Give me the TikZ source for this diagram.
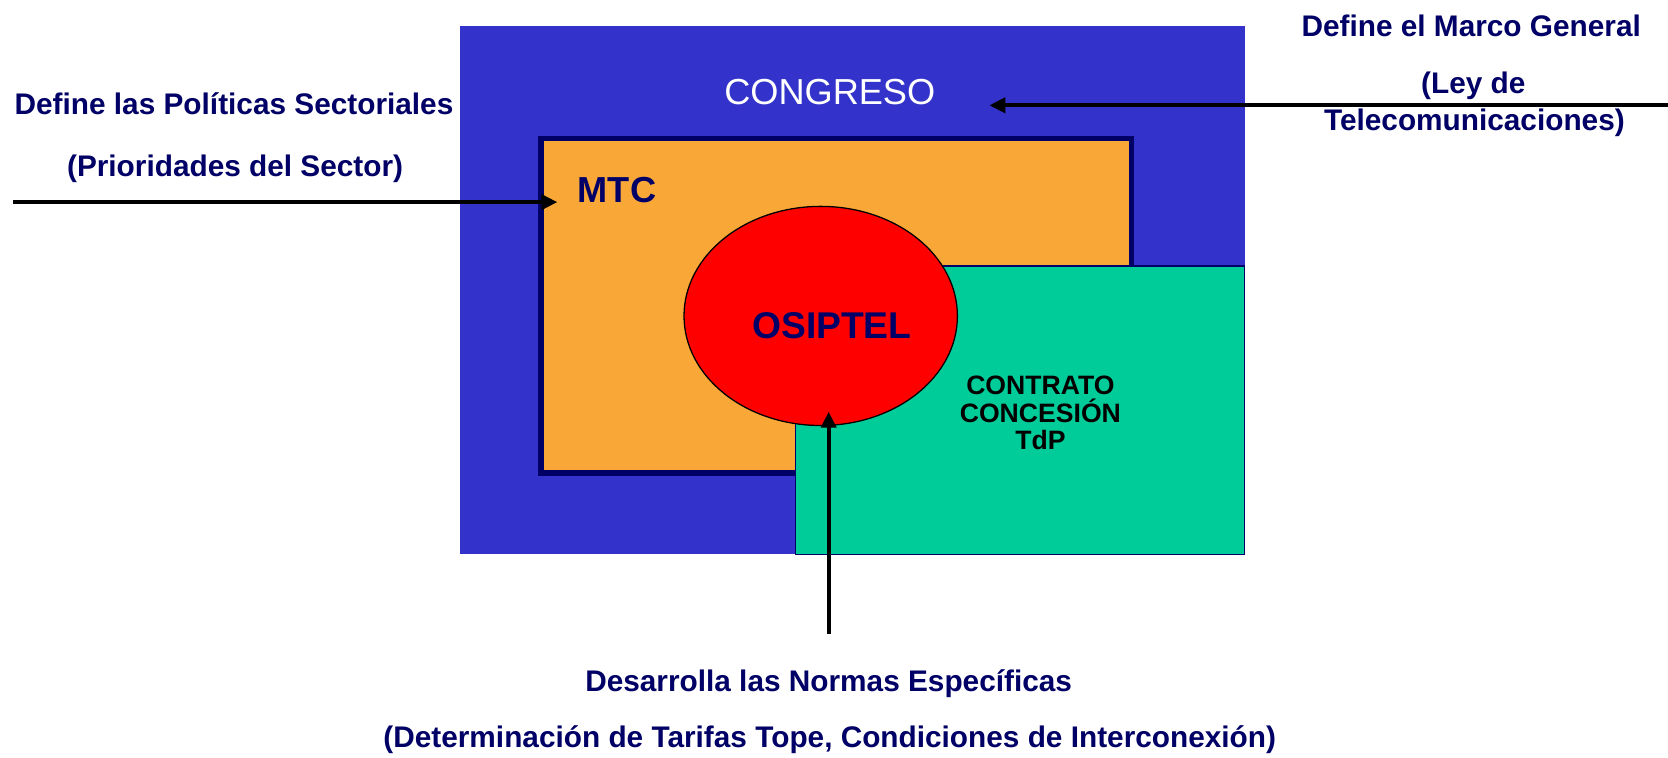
\documentclass[tikz,border=0pt]{standalone}
\usepackage{fontspec}
\setmainfont{Liberation Sans}
\usetikzlibrary{arrows.meta,shapes.geometric}
\definecolor{cblue}{RGB}{51,51,204}
\definecolor{corange}{RGB}{249,168,56}
\definecolor{cnavy}{RGB}{0,0,102}
\definecolor{cgreen}{RGB}{0,204,153}
\definecolor{cred}{RGB}{255,0,0}
\tikzset{
  box/.style={rectangle, inner sep=0pt, outer sep=0pt},
  lbl/.style={anchor=base, inner sep=0pt, text=cnavy, font=\fontsize{28}{34}\selectfont\bfseries},
  arr/.style={line width=4pt, -{Triangle[length=15pt,width=14pt]}},
}
\begin{document}
\begin{tikzpicture}[x=1pt,y=-1pt]
\useasboundingbox (0,0) rectangle (1568,712);
% shapes
\node[box, fill=cblue, minimum width=738pt, minimum height=497pt] (congreso) at (801,272.5) {};
\node[box, fill=corange, draw=cnavy, line width=5pt, minimum width=555pt, minimum height=314pt] (mtc) at (786,287.5) {};
\node[box, fill=cgreen, draw=cnavy, line width=1.2pt, minimum width=422pt, minimum height=271pt] (contrato) at (959,385.5) {};
\node[ellipse, inner sep=0pt, fill=cred, draw=black, line width=1.2pt, minimum width=257pt, minimum height=206pt] (osiptel) at (771.5,297) {};
% texts inside
\node[anchor=base, inner sep=0pt, text=white, font=\fontsize{34}{40}\selectfont] (tcongreso) at (780,98) {CONGRESO};
\node[anchor=base, inner sep=0pt, text=cnavy, font=\fontsize{34}{40}\selectfont\bfseries] (tmtc) at (580,190) {MTC};
\node[anchor=base, inner sep=0pt, text=cnavy, font=\fontsize{35}{40}\selectfont\bfseries] (tosiptel) at (782,318) {OSIPTEL};
\node[anchor=base, inner sep=0pt, text=black, font=\fontsize{25}{26.5}\selectfont\bfseries, align=center] (tcon1) at (978,371) {CONTRATO};
\node[anchor=base, inner sep=0pt, text=black, font=\fontsize{25}{26.5}\selectfont\bfseries] (tcon2) at (978,397) {CONCESIÓN};
\node[anchor=base, inner sep=0pt, text=black, font=\fontsize{25}{26.5}\selectfont\bfseries] (tcon3) at (978,423) {TdP};
% outer labels
\node[lbl] (pol1) at (220,108) {Define las Políticas Sectoriales};
\node[lbl] (pol2) at (221,166) {(Prioridades del Sector)};
\node[lbl] (mar1) at (1383,34) {Define el Marco General};
\node[lbl] (mar2) at (1385,88) {(Ley de};
\node[lbl] (mar3) at (1386,123) {Telecomunicaciones)};
\node[lbl] (nor1) at (779,650) {Desarrolla las Normas Específicas};
\node[lbl] (nor2) at (780,703) {(Determinación de Tarifas Tope, Condiciones de Interconexión)};
% arrows
\coordinate (polstart) at (12,190);
\coordinate (poltip) at (524,190);
\coordinate (marstart) at (1568,99);
\coordinate (martip) at (930,99);
\coordinate (norstart) at (779,596);
\coordinate (nortip) at (779,387);
\draw[arr] (polstart) -- (poltip);
\draw[arr] (marstart) -- (martip);
\draw[arr] (norstart) -- (nortip);
\end{tikzpicture}
\end{document}
